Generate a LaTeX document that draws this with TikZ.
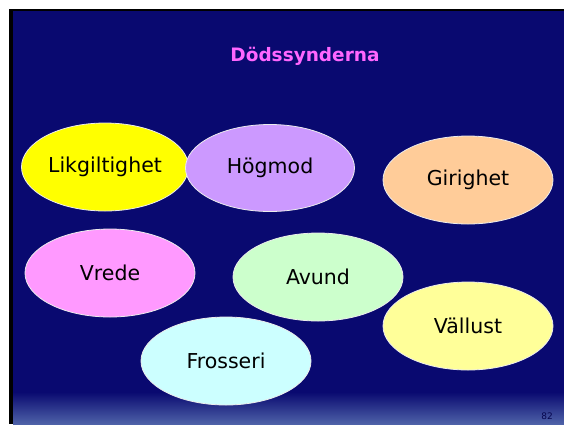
\documentclass[tikz,border=0pt]{standalone}
\usepackage{fontspec}
\setmainfont{DejaVu Sans}
\usetikzlibrary{shapes.geometric}
\definecolor{navy}{RGB}{9,9,112}
\definecolor{navylight}{RGB}{78,98,168}
\definecolor{titlepink}{RGB}{255,102,255}
\definecolor{cYellow}{RGB}{255,255,0}
\definecolor{cLilac}{RGB}{204,153,255}
\definecolor{cPeach}{RGB}{255,204,153}
\definecolor{cPink}{RGB}{255,153,255}
\definecolor{cGreen}{RGB}{204,255,204}
\definecolor{cLightYellow}{RGB}{255,255,153}
\definecolor{cCyan}{RGB}{204,255,255}
\tikzset{
  sin/.style={ellipse, draw=white!85!gray, line width=0.8pt, inner sep=0pt,
    minimum width=170pt, minimum height=88pt, font=\fontsize{20.5}{24}\selectfont, text=black},
}
\begin{document}
\begin{tikzpicture}[x=1pt,y=-1pt]
\useasboundingbox (0,0) rectangle (564,424);
\fill[white] (0,0) rectangle (564,424);
\fill[black] (9,9) rectangle (564,424);
\fill[navy] (13,11) rectangle (564,424);
\shade[top color=navy, bottom color=navylight] (13,392) rectangle (564,424);
\node[font=\bfseries\fontsize{18.5}{22}\selectfont, text=titlepink] (title) at (305,56) {Dödssynderna};
\node[sin, fill=cYellow, minimum width=167pt] (lik) at (105,167) {Likgiltighet};
\node[sin, fill=cLilac, minimum width=169pt, minimum height=87pt] (hog) at (270,168) {Högmod};
\node[sin, fill=cPeach] (gir) at (468,180) {Girighet};
\node[sin, fill=cPink] (vre) at (110,273) {Vrede};
\node[sin, fill=cGreen] (avu) at (318,277) {Avund};
\node[sin, fill=cLightYellow] (val) at (468,326) {Vällust};
\node[sin, fill=cCyan] (fro) at (226,361) {Frosseri};
\node[font=\fontsize{9}{10}\selectfont, text=navy!70!black] (page) at (547,416) {82};
\end{tikzpicture}
\end{document}
